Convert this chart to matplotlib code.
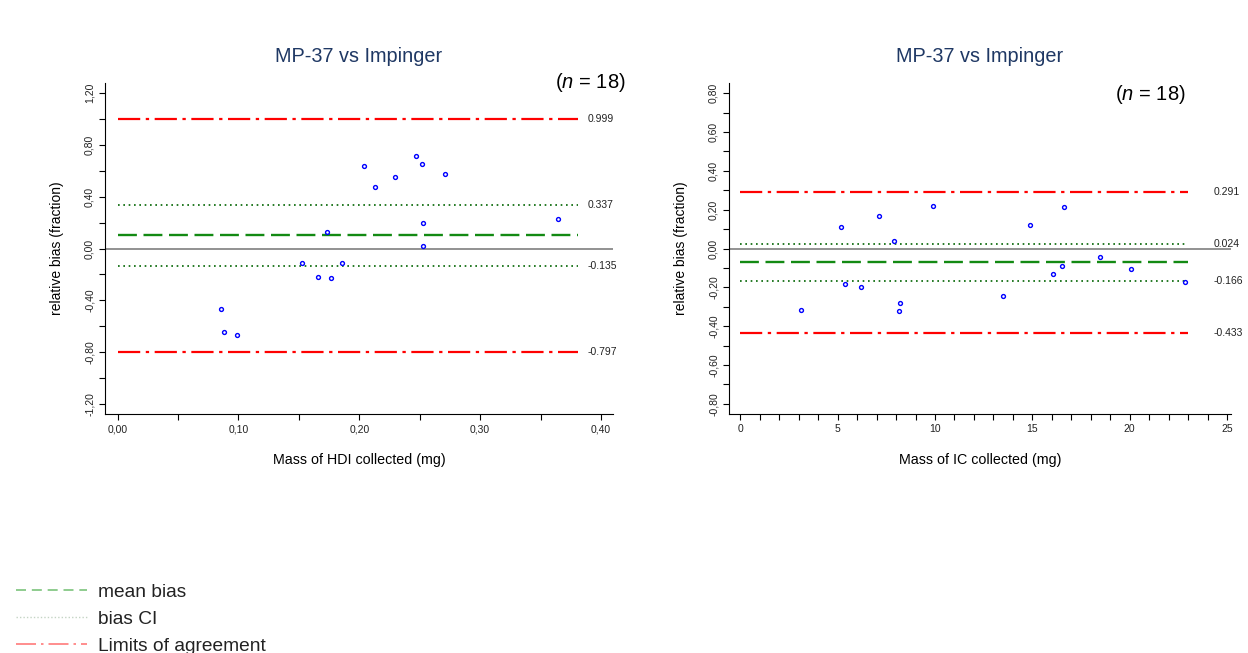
import matplotlib
matplotlib.use("Agg")
import matplotlib.pyplot as plt
from matplotlib.lines import Line2D
from matplotlib.ticker import MultipleLocator, FuncFormatter

plt.rcParams['font.family'] = ['Liberation Sans', 'DejaVu Sans']
plt.rcParams['mathtext.fontset'] = 'custom'
plt.rcParams['mathtext.it'] = 'Liberation Sans:italic'
plt.rcParams['mathtext.rm'] = 'Liberation Sans'

# --- data: HDI panel ---
hdi_mass = [0.0857, 0.0882, 0.0986, 0.1528, 0.1657, 0.1764, 0.1858, 0.2529,
            0.1732, 0.2038, 0.2126, 0.2296, 0.2466, 0.2520, 0.2712, 0.2529, 0.3647]
hdi_bias = [-0.465, -0.640, -0.668, -0.113, -0.223, -0.231, -0.108, 0.023,
            0.131, 0.635, 0.476, 0.553, 0.710, 0.653, 0.576, 0.193, 0.224]
hdi_mean = 0.101
hdi_ci = [0.337, -0.135]
hdi_loa = [0.999, -0.797]

# --- data: IC panel ---
ic_mass = [5.19, 7.13, 7.88, 9.88, 14.87, 16.60, 3.13, 5.37, 6.19, 8.19, 8.17,
           13.48, 16.04, 16.54, 18.48, 20.08, 22.83]
ic_bias = [0.112, 0.169, 0.038, 0.217, 0.122, 0.215, -0.315, -0.181, -0.196,
           -0.279, -0.322, -0.246, -0.131, -0.088, -0.045, -0.107, -0.175]
ic_mean = -0.071
ic_ci = [0.024, -0.166]
ic_loa = [0.291, -0.433]

TITLE = "MP-37 vs Impinger"
N_TEXT = "($\\it{n}$ = 18)"

W, H = 1248, 653
fig = plt.figure(figsize=(W / 100, H / 100), dpi=100)


def comma(dec):
    return FuncFormatter(lambda v, p: f"{v:.{dec}f}".replace('.', ','))


def panel(rect, xs, ys, mean, ci, loa, xlim, ylim, line_end, lab_x,
          xmaj, xmin, ymaj, ymin, xfmt, xlabel):
    ax = fig.add_axes(rect)
    ax.set_xlim(*xlim)
    ax.set_ylim(*ylim)
    for s in ['top', 'right']:
        ax.spines[s].set_visible(False)
    ax.axhline(0, color='#7f7f7f', lw=1.2, zorder=1)
    ax.hlines(loa, 0, line_end, colors='red', lw=1.6,
              linestyles=[(0, (10, 2.5, 1.5, 2.5))], zorder=2)
    ax.hlines(ci, 0, line_end, colors='#006400', lw=1.2,
              linestyles=[(0, (1, 2.2))], zorder=2)
    ax.hlines(mean, 0, line_end, colors='#138a13', lw=1.7,
              linestyles=[(0, (8, 2.8))], zorder=2)
    for v in loa + ci:
        ax.text(lab_x, v, f"{v:.3f}", fontsize=7.5, va='center', ha='left',
                color='#222222')
    ax.plot(xs, ys, 'o', ms=2.8, mfc='none', mec='blue', mew=1.0, zorder=3)
    ax.xaxis.set_major_locator(MultipleLocator(xmaj))
    ax.xaxis.set_minor_locator(MultipleLocator(xmin))
    ax.yaxis.set_major_locator(MultipleLocator(ymaj))
    ax.yaxis.set_minor_locator(MultipleLocator(ymin))
    ax.xaxis.set_major_formatter(xfmt)
    ax.yaxis.set_major_formatter(comma(2))
    ax.tick_params(which='both', length=4, width=0.8, labelsize=7.5,
                   labelcolor='#222222')
    for t in ax.get_yticklabels():
        t.set_rotation(90)
        t.set_va('center')
    ax.text(-0.095, 0.5, "relative bias (fraction)", transform=ax.transAxes,
            rotation=90, ha='center', va='center', fontsize=10)
    ax.text(0.5, -0.139, xlabel, transform=ax.transAxes, ha='center',
            va='center', fontsize=10.3)
    ax.set_title(TITLE, fontsize=14.3, color='#1f3864', pad=15)
    return ax


ax1 = panel([105 / W, 1 - 414 / H, 508 / W, 331 / H], hdi_mass, hdi_bias,
            hdi_mean, hdi_ci, hdi_loa, (-0.0105, 0.41), (-1.276, 1.276),
            0.381, 0.389, 0.1, 0.05, 0.4, 0.2, comma(2),
            "Mass of HDI collected (mg)")
ax2 = panel([729 / W, 1 - 414 / H, 502 / W, 331 / H], ic_mass, ic_bias,
            ic_mean, ic_ci, ic_loa, (-0.58, 25.2), (-0.853, 0.853),
            23.0, 24.3, 5, 1, 0.2, 0.1,
            FuncFormatter(lambda v, p: f"{v:.0f}"),
            "Mass of IC collected (mg)")

fig.text(590 / W, 1 - 82 / H, N_TEXT, fontsize=14.5, ha='center', va='center')
fig.text(1150 / W, 1 - 95 / H, N_TEXT, fontsize=14.5, ha='center', va='center')

handles = [
    Line2D([], [], color='#7cc47c', lw=1.2, linestyle=(0, (6, 3.5))),
    Line2D([], [], color='#c4d4c4', lw=1.0, linestyle=(0, (1, 1.5))),
    Line2D([], [], color='#ff7a7a', lw=1.2, linestyle=(0, (12, 3, 1.5, 3))),
]
fig.legend(handles, ["mean bias", "bias CI", "Limits of agreement"],
           loc='lower left', bbox_to_anchor=(-0.001, -0.029), frameon=False,
           fontsize=13.8, handlelength=3.7, handletextpad=0.6,
           labelspacing=0.5, labelcolor='#222222')

fig.savefig("out.png", dpi=100)
